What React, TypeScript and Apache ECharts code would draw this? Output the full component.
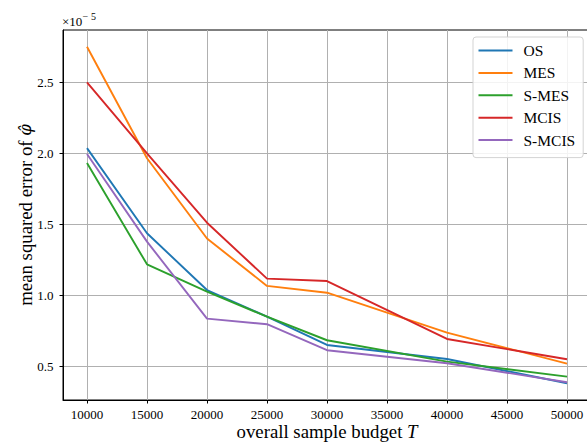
import React, { useEffect, useRef } from "react";
import * as echarts from "echarts";

// Sample budgets T
const budgets = [10000, 15000, 20000, 25000, 30000, 40000, 50000];
// Mean squared error values, in units of 1e-5
const osVals = [2.037, 1.437, 1.037, 0.849, 0.65, 0.551, 0.38];
const mesVals = [2.751, 1.965, 1.40, 1.066, 1.018, 0.737, 0.518];
const smesVals = [1.932, 1.218, 1.025, 0.849, 0.683, 0.532, 0.427];
const mcisVals = [2.5, 2.0, 1.511, 1.117, 1.10, 0.692, 0.549];
const smcisVals = [1.995, 1.378, 0.835, 0.796, 0.613, 0.521, 0.387];

const seriesNames = ["OS", "MES", "S-MES", "MCIS", "S-MCIS"];
const seriesData = [osVals, mesVals, smesVals, mcisVals, smcisVals];
const colors = ["#1f77b4", "#ff7f0e", "#2ca02c", "#d62728", "#9467bd"];

const xTicks = [10000, 15000, 20000, 25000, 30000, 35000, 40000, 45000, 50000];
const yTicks = [0.5, 1.0, 1.5, 2.0, 2.5];

const FONT = "Liberation Serif";

export default function App() {
  const ref = useRef<HTMLDivElement>(null);
  useEffect(() => {
    if (!ref.current) return;
    const chart = echarts.init(ref.current, null, { renderer: "svg" });
    chart.setOption({
      animation: false,
      backgroundColor: "#ffffff",
      textStyle: { fontFamily: FONT },
      grid: {
        left: 63,
        top: 30,
        width: 528,
        height: 370,
        show: true,
        borderColor: "#000",
        borderWidth: 1,
        backgroundColor: "transparent",
        containLabel: false,
        outerBoundsMode: "none",
      },
      legend: {
        orient: "vertical",
        left: 473,
        top: 37,
        padding: [5.5, 8, 9.5, 5.5],
        icon: "rect",
        itemWidth: 34,
        itemHeight: 2,
        itemGap: 6.4,
        backgroundColor: "rgba(255,255,255,0.85)",
        borderColor: "#d3d3d3",
        borderWidth: 1,
        borderRadius: 3,
        textStyle: {
          fontFamily: FONT,
          fontSize: 15.5,
          color: "#000",
          lineHeight: 16,
          padding: [0, 0, 0, 6],
        },
        data: seriesNames,
      },
      xAxis: {
        type: "value",
        min: 8000,
        max: 52000,
        name: "overall sample budget {i|T}",
        nameLocation: "middle",
        nameMoveOverlap: false,
        nameGap: 22,
        nameTextStyle: {
          fontFamily: FONT,
          fontSize: 18.8,
          color: "#000",
          rich: { i: { fontFamily: FONT, fontSize: 18.8, fontStyle: "italic", color: "#000" } },
        },
        axisLine: { show: true, onZero: false, lineStyle: { color: "#000", width: 1 } },
        axisTick: {
          show: true,
          inside: false,
          length: 3.5,
          lineStyle: { color: "#000" },
          customValues: xTicks,
        },
        axisLabel: {
          show: true,
          margin: 8,
          fontFamily: FONT,
          fontSize: 13,
          lineHeight: 13,
          color: "#000",
          customValues: xTicks,
          formatter: (v: number) => String(v),
        },
        splitLine: { show: true, lineStyle: { color: "#b0b0b0", width: 1 } },
      },
      yAxis: {
        type: "value",
        min: 0.262,
        max: 2.869,
        name: "mean squared error of {i|φ̂}",
        nameLocation: "middle",
        nameRotate: 90,
        nameMoveOverlap: false,
        nameGap: 28,
        nameTextStyle: {
          fontFamily: FONT,
          fontSize: 18.8,
          color: "#000",
          rich: {
            i: { fontFamily: "DejaVu Serif", fontSize: 16.5, fontStyle: "italic", color: "#000" },
          },
        },
        axisLine: { show: true, onZero: false, lineStyle: { color: "#000", width: 1 } },
        axisTick: {
          show: true,
          inside: false,
          length: 3.5,
          lineStyle: { color: "#000" },
          customValues: yTicks,
        },
        axisLabel: {
          show: true,
          margin: 9.5,
          fontFamily: FONT,
          fontSize: 13,
          color: "#000",
          customValues: yTicks,
          formatter: (v: number) => v.toFixed(1),
        },
        splitLine: { show: true, lineStyle: { color: "#b0b0b0", width: 1 } },
      },
      graphic: [
        {
          type: "text",
          left: 62,
          top: 15,
          style: { text: "×10", fontFamily: FONT, fontSize: 13, fill: "#000" },
        },
        {
          type: "text",
          left: 82.5,
          top: 11.5,
          style: { text: "−", fontFamily: FONT, fontSize: 10, fill: "#000" },
        },
        {
          type: "text",
          left: 91,
          top: 11.5,
          style: { text: "5", fontFamily: FONT, fontSize: 10, fill: "#000" },
        },
      ],
      series: seriesNames.map((name, i) => ({
        name,
        type: "line",
        symbol: "none",
        color: colors[i],
        lineStyle: { color: colors[i], width: 1.9 },
        data: budgets.map((b, j) => [b, seriesData[i][j]]),
      })),
    });
    return () => chart.dispose();
  }, []);
  return (
    <div
      ref={ref}
      style={{ position: "fixed", left: 0, top: 0, width: 587, height: 444, background: "#fff" }}
    />
  );
}
